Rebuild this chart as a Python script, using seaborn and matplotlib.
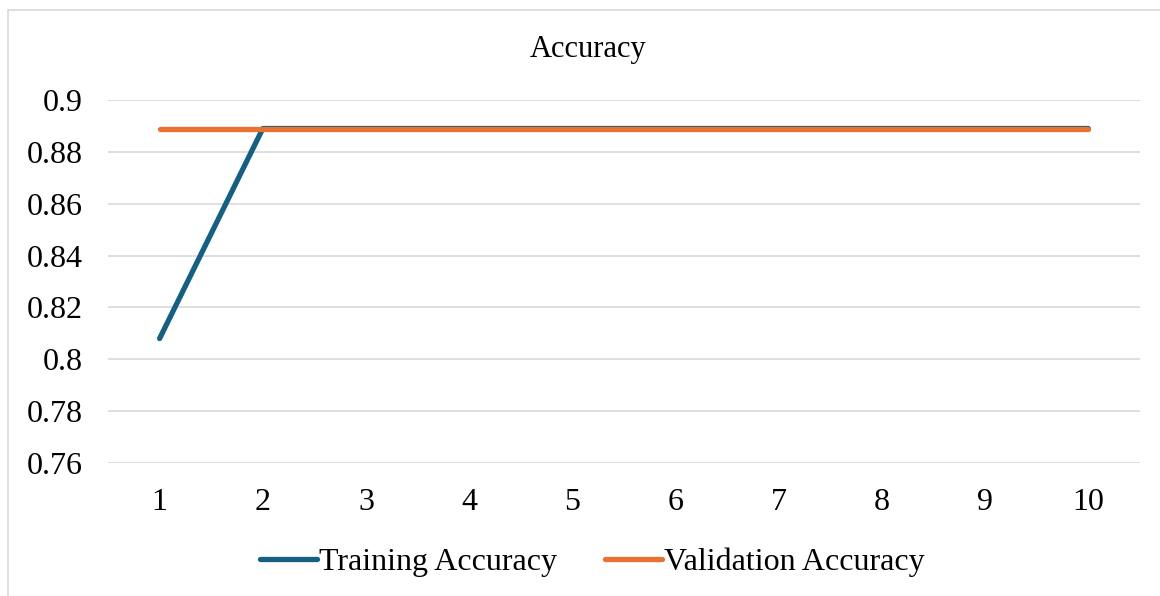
import numpy as np
import pandas as pd
import seaborn as sns
import matplotlib.pyplot as plt

epochs = [1, 2, 3, 4, 5, 6, 7, 8, 9, 10]
train_acc = [0.808, 0.889, 0.889, 0.889, 0.889, 0.889, 0.889, 0.889, 0.889, 0.889]
val_acc = [0.889, 0.889, 0.889, 0.889, 0.889, 0.889, 0.889, 0.889, 0.889, 0.889]
y_ticks = [0.76, 0.78, 0.8, 0.82, 0.84, 0.86, 0.88, 0.9]
y_labels = ['0.76', '0.78', '0.8', '0.82', '0.84', '0.86', '0.88', '0.9']

data = pd.DataFrame({
    'epoch': epochs * 2,
    'acc': train_acc + val_acc,
    'series': ['Training Accuracy'] * 10 + ['Validation Accuracy'] * 10,
})

sns.set_theme(style='white')
plt.rcParams['font.family'] = ['Liberation Serif', 'DejaVu Serif']
plt.rcParams['text.color'] = 'black'

fig = plt.figure(figsize=(11.6, 5.96), dpi=100)
ax = fig.add_axes([108 / 1160, 1 - 463 / 596, 1032 / 1160, 363 / 596])

sns.lineplot(data=data, x='epoch', y='acc', hue='series',
             palette=['#156082', '#E97132'], linewidth=3.8, ax=ax,
             solid_capstyle='round', legend=True)

ax.set_xlim(0.5, 10.5)
ax.set_ylim(0.76, 0.9)
ax.set_yticks(y_ticks)
ax.set_yticklabels(y_labels)
ax.set_xticks(epochs)
ax.set_xticklabels([str(e) for e in epochs])
ax.yaxis.grid(True, color='#d9d9d9', linewidth=1.2)
ax.set_axisbelow(True)
for s in ax.spines.values():
    s.set_visible(False)
ax.tick_params(axis='both', length=0, labelsize=23, colors='black')
ax.tick_params(axis='y', pad=18)
ax.tick_params(axis='x', pad=18)
ax.set_xlabel('')
ax.set_ylabel('')

fig.text(588 / 1160, 1 - 50 / 596, 'Accuracy', fontsize=22,
         ha='center', va='center', color='black')

handles, labels = ax.get_legend_handles_labels()
ax.get_legend().remove()
leg = fig.legend(handles, labels, loc='center', bbox_to_anchor=(592 / 1160, 1 - 562 / 596),
                 ncol=2, frameon=False, fontsize=23, handlelength=1.8,
                 handletextpad=0.05, columnspacing=1.5)
for line in leg.get_lines():
    line.set_linewidth(3.8)
    line.set_solid_capstyle('round')
for t in leg.get_texts():
    t.set_color('black')

border = plt.Rectangle((8 / 1160, -0.05), 1.1, 1 - 10 / 596 + 0.05,
                       transform=fig.transFigure, fill=False,
                       edgecolor='#d9d9d9', linewidth=1.2)
fig.patches.append(border)

fig.savefig('out.png', dpi=100)
